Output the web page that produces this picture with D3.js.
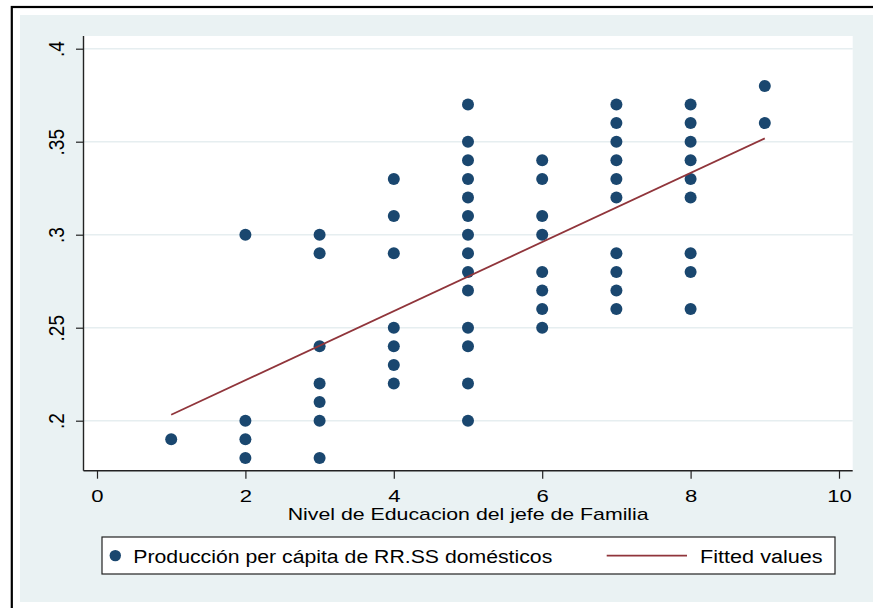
<!DOCTYPE html>
<html>
<head>
<meta charset="utf-8">
<script src="https://cdn.jsdelivr.net/npm/d3@7"></script>
<style>
  html, body { margin: 0; padding: 0; background: #ffffff; }
  svg { display: block; }
  text { font-family: "Liberation Sans", Arial, Helvetica, sans-serif; fill: #000; }
</style>
</head>
<body>
<svg id="chart" width="873" height="608"></svg>
<script>
// Education level of the household head (x) and per-capita waste production (y)
const eduLevels = [1, 2, 2, 2, 2,
  3, 3, 3, 3, 3, 3, 3,
  4, 4, 4, 4, 4, 4, 4,
  5, 5, 5, 5, 5, 5, 5, 5, 5, 5, 5, 5, 5, 5,
  6, 6, 6, 6, 6, 6, 6, 6,
  7, 7, 7, 7, 7, 7, 7, 7, 7, 7,
  8, 8, 8, 8, 8, 8, 8, 8, 8,
  9, 9];
const production = [0.19, 0.30, 0.20, 0.19, 0.18,
  0.30, 0.29, 0.24, 0.22, 0.21, 0.20, 0.18,
  0.33, 0.31, 0.29, 0.25, 0.24, 0.23, 0.22,
  0.37, 0.35, 0.34, 0.33, 0.32, 0.31, 0.30, 0.29, 0.28, 0.27, 0.25, 0.24, 0.22, 0.20,
  0.34, 0.33, 0.31, 0.30, 0.28, 0.27, 0.26, 0.25,
  0.37, 0.36, 0.35, 0.34, 0.33, 0.32, 0.29, 0.28, 0.27, 0.26,
  0.37, 0.36, 0.35, 0.34, 0.33, 0.32, 0.29, 0.28, 0.26,
  0.38, 0.36];

// Linear fit endpoints
const fitX = [1, 9];
const fitY = [0.2032, 0.3518];

// Axis ticks
const xTicks = [0, 2, 4, 6, 8, 10];
const yTicks = [0.2, 0.25, 0.3, 0.35, 0.4];
const yTickLabels = [".2", ".25", ".3", ".35", ".4"];

const xTitle = "Nivel de Educacion del jefe de Familia";
const legendLabels = ["Producción per cápita de RR.SS domésticos", "Fitted values"];

const markerColor = "#1a476f";
const fitColor = "#90353b";
const regionColor = "#eaf2f3";

const svg = d3.select("#chart");

// Plot region bounds
const plot = { left: 83.5, right: 852.7, top: 36, bottom: 470.7 };

const x = d3.scaleLinear().domain([0, 10]).range([97, 839]);
const y = d3.scaleLinear().domain([0.2, 0.4]).range([420.7, 48.7]);

// Outer frame and graph region
svg.append("rect").attr("x", 0).attr("y", 0).attr("width", 873).attr("height", 608).attr("fill", "#fff");
svg.append("rect").attr("x", 20).attr("y", 15).attr("width", 860).attr("height", 587).attr("fill", regionColor);
svg.append("rect").attr("x", 11.8).attr("y", 7).attr("width", 880).attr("height", 620)
  .attr("fill", "none").attr("stroke", "#000").attr("stroke-width", 2.2);

// Plot region
svg.append("rect")
  .attr("x", plot.left).attr("y", plot.top)
  .attr("width", plot.right - plot.left).attr("height", plot.bottom - plot.top)
  .attr("fill", "#fff");

// Horizontal grid lines
svg.append("g").selectAll("line").data(yTicks).join("line")
  .attr("x1", plot.left).attr("x2", plot.right)
  .attr("y1", d => y(d)).attr("y2", d => y(d))
  .attr("stroke", "#e6eef0").attr("stroke-width", 1.6);

// Y axis
const yAxis = d3.axisLeft(y).tickValues(yTicks).tickSize(7.5).tickFormat("");
const gy = svg.append("g").attr("transform", `translate(${plot.left},0)`).call(yAxis);
gy.select(".domain").remove();
gy.selectAll(".tick line").attr("stroke", "#222").attr("stroke-width", 1.2);
svg.append("line").attr("x1", plot.left).attr("x2", plot.left)
  .attr("y1", plot.top).attr("y2", plot.bottom)
  .attr("stroke", "#222").attr("stroke-width", 1.4);

gy.selectAll(".tick").append("text")
  .attr("transform", "translate(-19.5,0) scale(1.15,1) rotate(-90)")
  .attr("text-anchor", "middle")
  .attr("font-size", 19)
  .text((d, i) => yTickLabels[i]);

// X axis
const xAxis = d3.axisBottom(x).tickValues(xTicks).tickSize(8).tickFormat("");
const gx = svg.append("g").attr("transform", `translate(0,${plot.bottom})`).call(xAxis);
gx.select(".domain").remove();
gx.selectAll(".tick line").attr("stroke", "#222").attr("stroke-width", 1.2);
svg.append("line").attr("x1", plot.left).attr("x2", plot.right)
  .attr("y1", plot.bottom).attr("y2", plot.bottom)
  .attr("stroke", "#222").attr("stroke-width", 1.4);

gx.selectAll(".tick").append("text")
  .attr("transform", "translate(0,31.3) scale(1.3,1)")
  .attr("text-anchor", "middle")
  .attr("font-size", 17)
  .text(d => d3.format("d")(d));

// X axis title
svg.append("text")
  .attr("x", 287.7).attr("y", 520)
  .attr("font-size", 17)
  .attr("textLength", 361).attr("lengthAdjust", "spacingAndGlyphs")
  .text(xTitle);

// Scatter points
const points = eduLevels.map((v, i) => ({ x: v, y: production[i] }));
svg.append("g").selectAll("circle").data(points).join("circle")
  .attr("cx", d => x(d.x)).attr("cy", d => y(d.y)).attr("r", 6)
  .attr("fill", markerColor);

// Fitted line
const fitPts = fitX.map((v, i) => [v, fitY[i]]);
svg.append("path")
  .datum(fitPts)
  .attr("d", d3.line().x(d => x(d[0])).y(d => y(d[1])))
  .attr("fill", "none").attr("stroke", fitColor).attr("stroke-width", 1.8);

// Legend
const lg = svg.append("g");
lg.append("rect").attr("x", 102).attr("y", 537).attr("width", 733).attr("height", 37)
  .attr("fill", "#fff").attr("stroke", "#222").attr("stroke-width", 1.2);
lg.append("circle").attr("cx", 115.3).attr("cy", 555.6).attr("r", 5.7).attr("fill", markerColor);
lg.append("text").attr("x", 133.3).attr("y", 562.5).attr("font-size", 18)
  .attr("textLength", 419).attr("lengthAdjust", "spacingAndGlyphs")
  .text(legendLabels[0]);
lg.append("line").attr("x1", 606.7).attr("x2", 687).attr("y1", 555.7).attr("y2", 555.7)
  .attr("stroke", fitColor).attr("stroke-width", 1.8);
lg.append("text").attr("x", 700).attr("y", 562.5).attr("font-size", 18)
  .attr("textLength", 122.7).attr("lengthAdjust", "spacingAndGlyphs")
  .text(legendLabels[1]);
</script>
</body>
</html>
